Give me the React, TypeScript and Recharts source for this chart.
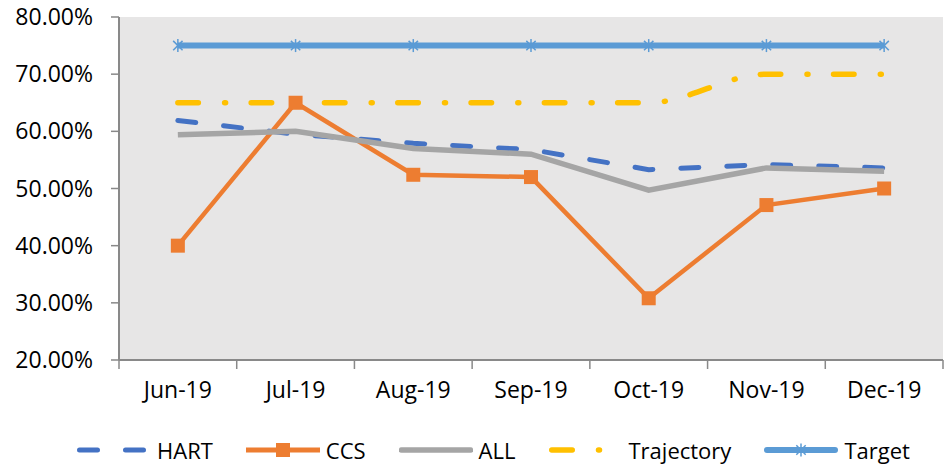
import { LineChart, Line, XAxis, YAxis, CartesianGrid } from 'recharts';

const months = ['Jun-19', 'Jul-19', 'Aug-19', 'Sep-19', 'Oct-19', 'Nov-19', 'Dec-19'];
const hart = [61.9, 59.5, 57.9, 56.8, 53.3, 54.2, 53.6];
const ccs = [40.0, 65.0, 52.4, 52.0, 30.8, 47.1, 50.0];
const all = [59.4, 60.0, 57.0, 56.0, 49.7, 53.6, 53.0];
const trajectory = [65, 65, 65, 65, 65, 70, 70];
const target = [75, 75, 75, 75, 75, 75, 75];
const yTicks = [20, 30, 40, 50, 60, 70, 80];

const data = months.map((m, i) => ({
  i,
  month: m,
  HART: hart[i],
  CCS: ccs[i],
  ALL: all[i],
  Trajectory: trajectory[i],
  Target: target[i],
}));

const W = 944;
const H = 466;
const PLOT_LEFT = 119;
const PLOT_RIGHT = 943;
const HALF_BAND = (PLOT_RIGHT - PLOT_LEFT) / months.length / 2;

const FONT = '"Open Sans", sans-serif';
const AXIS = '#898989';
const C_HART = '#4472C4';
const C_CCS = '#ED7D31';
const C_ALL = '#A5A5A5';
const C_TRAJ = '#FFC000';
const C_TARGET = '#5B9BD5';

const HART_DASH = '18 28';
const TRAJ_DASH = '20.5 26.25 1 25.55';

function MonthTick(props: any) {
  const { x, y, payload, index } = props;
  return (
    <g>
      <line x1={x - HALF_BAND} x2={x - HALF_BAND} y1={y - 9} y2={y} stroke={AXIS} strokeWidth={1.5} />
      {index === months.length - 1 && (
        <line x1={x + HALF_BAND} x2={x + HALF_BAND} y1={y - 9} y2={y} stroke={AXIS} strokeWidth={1.5} />
      )}
      <text x={x} y={y + 13} dy="0.71em" textAnchor="middle" fontSize={23} fontFamily={FONT} fill="#000">
        {months[payload.value] ?? months[index]}
      </text>
    </g>
  );
}

function Square(props: any) {
  const { cx, cy } = props;
  if (cx == null || cy == null) return null;
  return <rect x={cx - 7} y={cy - 7} width={14} height={14} fill={C_CCS} />;
}

function Star(props: any) {
  const { cx, cy } = props;
  if (cx == null || cy == null) return null;
  const r = 6.5;
  const d = r * 0.72;
  return (
    <g stroke={C_TARGET} strokeWidth={1.5}>
      <line x1={cx} y1={cy - r} x2={cx} y2={cy + r} />
      <line x1={cx - d} y1={cy - d} x2={cx + d} y2={cy + d} />
      <line x1={cx - d} y1={cy + d} x2={cx + d} y2={cy - d} />
    </g>
  );
}

function LegendIcon({ kind }: { kind: string }) {
  const y = 12;
  return (
    <svg width={74} height={24} style={{ display: 'block' }}>
      {kind === 'HART' && (
        <line x1={2.5} x2={71.5} y1={y} y2={y} stroke={C_HART} strokeWidth={5} strokeDasharray={HART_DASH} strokeLinecap="round" />
      )}
      {kind === 'CCS' && (
        <>
          <line x1={0} x2={74} y1={y} y2={y} stroke={C_CCS} strokeWidth={5} strokeLinecap="round" />
          <rect x={30} y={y - 7} width={14} height={14} fill={C_CCS} />
        </>
      )}
      {kind === 'ALL' && <line x1={2.5} x2={71.5} y1={y} y2={y} stroke={C_ALL} strokeWidth={5.5} strokeLinecap="round" />}
      {kind === 'Trajectory' && (
        <line x1={2.75} x2={71} y1={y} y2={y} stroke={C_TRAJ} strokeWidth={5.5} strokeDasharray={TRAJ_DASH} strokeLinecap="round" />
      )}
      {kind === 'Target' && (
        <>
          <line x1={3} x2={71} y1={y} y2={y} stroke={C_TARGET} strokeWidth={6} strokeLinecap="round" />
          <Star cx={37} cy={y} />
        </>
      )}
    </svg>
  );
}

const legendItems = ['HART', 'CCS', 'ALL', 'Trajectory', 'Target'];

export default function App() {
  return (
    <div style={{ position: 'absolute', left: 0, top: 0, width: W, height: H, background: '#fff', overflow: 'hidden' }}>
      <LineChart width={W} height={H} data={data} margin={{ top: 17, right: W - PLOT_RIGHT, bottom: 66, left: 0 }}>
        <CartesianGrid horizontal={false} vertical={false} fill="#E7E6E6" stroke="none" />
        <XAxis
          type="number"
          dataKey="i"
          domain={[-0.5, 6.5]}
          ticks={[0, 1, 2, 3, 4, 5, 6]}
          height={40}
          tickSize={9}
          tickMargin={0}
          tickLine={false}
          axisLine={{ stroke: AXIS, strokeWidth: 2 }}
          tick={<MonthTick />}
          interval={0}
        />
        <YAxis
          width={PLOT_LEFT}
          domain={[20, 80]}
          ticks={yTicks}
          tickSize={8}
          tickMargin={18}
          axisLine={{ stroke: AXIS, strokeWidth: 2 }}
          tickLine={{ stroke: AXIS, strokeWidth: 1.5 }}
          tickFormatter={(v: number) => `${v.toFixed(2)}%`}
          tick={{ fontSize: 23, fontFamily: FONT, fill: '#000' }}
        />
        <Line
          dataKey="HART"
          type="linear"
          stroke={C_HART}
          strokeWidth={5}
          strokeDasharray={HART_DASH}
          strokeLinecap="round"
          dot={false}
          activeDot={false}
          isAnimationActive={false}
        />
        <Line
          dataKey="CCS"
          type="linear"
          stroke={C_CCS}
          strokeWidth={4.5}
          dot={<Square />}
          activeDot={false}
          isAnimationActive={false}
        />
        <Line
          dataKey="ALL"
          type="linear"
          stroke={C_ALL}
          strokeWidth={5.5}
          dot={false}
          activeDot={false}
          isAnimationActive={false}
        />
        <Line
          dataKey="Trajectory"
          type="monotone"
          stroke={C_TRAJ}
          strokeWidth={5.5}
          strokeDasharray={TRAJ_DASH}
          strokeLinecap="round"
          dot={false}
          activeDot={false}
          isAnimationActive={false}
        />
        <Line
          dataKey="Target"
          type="linear"
          stroke={C_TARGET}
          strokeWidth={6}
          dot={<Star />}
          activeDot={false}
          isAnimationActive={false}
        />
      </LineChart>
      <div
        style={{
          position: 'absolute',
          left: 77,
          top: 435,
          height: 30,
          display: 'flex',
          alignItems: 'center',
          gap: 33,
          fontFamily: FONT,
          fontSize: 22,
          lineHeight: '30px',
          color: '#000',
        }}
      >
        {legendItems.map((k) => (
          <div key={k} style={{ display: 'flex', alignItems: 'center', gap: 6 }}>
            <LegendIcon kind={k} />
            <span>{k}</span>
          </div>
        ))}
      </div>
    </div>
  );
}
